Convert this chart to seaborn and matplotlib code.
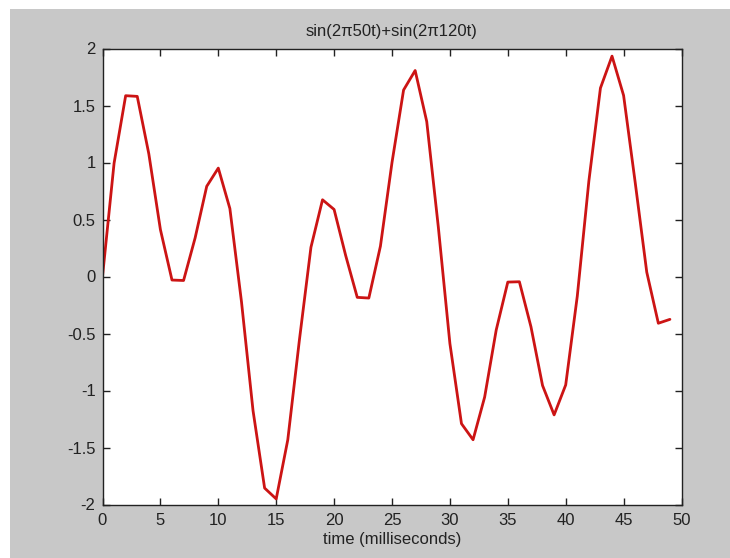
import matplotlib
matplotlib.use("Agg")
import matplotlib.pyplot as plt
import seaborn as sns
import pandas as pd
from matplotlib.patches import Rectangle

t_ms = list(range(50))
signal = [0.000, 0.994, 1.586, 1.580, 1.076, 0.412, -0.031, -0.035, 0.339, 0.791,
          0.951, 0.596, -0.220, -1.177, -1.856, -1.951, -1.433, -0.560, 0.256, 0.673,
          0.588, 0.184, -0.183, -0.189, 0.266, 1.000, 1.636, 1.807, 1.359, 0.434,
          -0.588, -1.291, -1.432, -1.058, -0.469, -0.049, -0.046, -0.441, -0.956, -1.214,
          -0.951, -0.173, 0.837, 1.653, 1.933, 1.588, 0.826, 0.038, -0.410, -0.376]
xticks = [0, 5, 10, 15, 20, 25, 30, 35, 40, 45, 50]
yticks = [-2, -1.5, -1, -0.5, 0, 0.5, 1, 1.5, 2]
ytick_labels = ["-2", "-1.5", "-1", "-0.5", "0", "0.5", "1", "1.5", "2"]

sns.set_style("ticks")
plt.rcParams['font.family'] = ['Liberation Sans', 'DejaVu Sans']

W, H = 730, 558
fig = plt.figure(figsize=(W / 100, H / 100), dpi=100, facecolor="white")
fig.patches.append(Rectangle((10 / W, 0), 1 - 10 / W, 1 - 9 / H, transform=fig.transFigure,
                             facecolor="#c8c8c8", edgecolor="none", zorder=-10))
ax = fig.add_axes([102.5 / W, 1 - 504.5 / H, (681.5 - 102.5) / W, (504.5 - 48.5) / H])
ax.set_facecolor("white")

df = pd.DataFrame({"t": t_ms, "y": signal})
sns.lineplot(data=df, x="t", y="y", ax=ax, color="#cc1414", linewidth=2)

ax.set_xlim(0, 50)
ax.set_ylim(-2, 2)
ax.set_xticks(xticks)
ax.set_yticks(yticks)
ax.set_yticklabels(ytick_labels)
for s in ax.spines.values():
    s.set_visible(True)
    s.set_color("#222222")
    s.set_linewidth(1)
ax.tick_params(direction="in", length=5, width=1, top=True, right=True,
               labelsize=12, colors="#222222")
ax.tick_params(axis="x", pad=6)
ax.tick_params(axis="y", pad=5)
ax.set_xlabel("time (milliseconds)", fontsize=12, labelpad=3, color="#222222")
ax.set_ylabel("")
ax.set_title("sin(2\u03c050t)+sin(2\u03c0120t)", fontsize=12, pad=9, color="#222222")

fig.savefig("out.png", dpi=100, facecolor=fig.get_facecolor())
